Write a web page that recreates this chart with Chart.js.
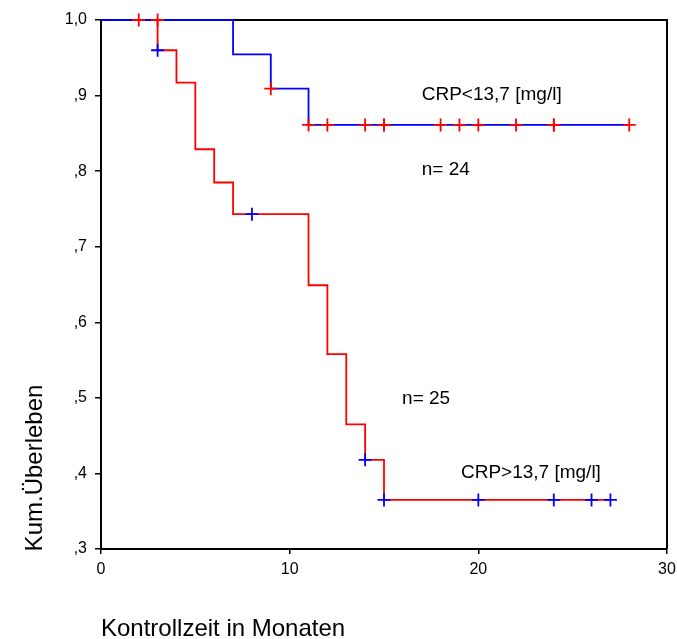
<!DOCTYPE html>
<html>
<head>
<meta charset="utf-8">
<script src="https://cdn.jsdelivr.net/npm/chart.js@4"></script>
<style>
  html, body { margin: 0; padding: 0; background: #fff; }
  canvas { display: block; }
</style>
</head>
<body>
<canvas id="km" width="677" height="639"></canvas>
<script>
// Kaplan-Meier Kurven (Monate / kum. Ueberleben)
var lowTimes = [0, 7, 9, 11, 28];
var lowSurv = [1, 0.9545, 0.9091, 0.8612, 0.8612];
var lowCensored = [2, 3, 9, 11, 12, 14, 15, 15, 18, 19, 20, 22, 24, 24, 28];

var highTimes = [0, 3, 4, 5, 6, 7, 11, 12, 13, 14, 15, 27];
var highSurv = [1, 0.96, 0.917, 0.829, 0.785, 0.743, 0.649, 0.558, 0.465, 0.418, 0.365, 0.365];
var highCensored = [3, 8, 14, 15, 20, 24, 26, 27];

var yTickLabels = [',3', ',4', ',5', ',6', ',7', ',8', ',9', '1,0'];
var xTickLabels = ['0', '10', '20', '30'];

var FONT = "'Liberation Sans', Arial, sans-serif";

function toPoints(times, surv) {
    return times.map(function (t, i) { return { x: t, y: surv[i] }; });
}

// Wert der Treppenfunktion zum Zeitpunkt t
function survAt(times, surv, t) {
    var v = surv[0];
    for (var i = 0; i < times.length; i++) {
        if (times[i] <= t) v = surv[i];
    }
    return v;
}

function censorPoints(cens, times, surv) {
    return cens.map(function (t) { return { x: t, y: survAt(times, surv, t) }; });
}

var textPlugin = {
    id: 'kmText',
    beforeDatasetsDraw: function (chart) {
        // Rahmen oben/rechts (unter den Kurven)
        var ctx = chart.ctx;
        var a = chart.chartArea;
        ctx.save();
        ctx.strokeStyle = '#000';
        ctx.lineWidth = 2;
        ctx.beginPath();
        ctx.moveTo(a.left, a.top);
        ctx.lineTo(a.right, a.top);
        ctx.lineTo(a.right, a.bottom);
        ctx.stroke();
        ctx.restore();
    },
    afterDraw: function (chart) {
        var ctx = chart.ctx;
        var xs = chart.scales.x, ys = chart.scales.y;
        ctx.save();
        ctx.fillStyle = '#000';
        ctx.font = '19px ' + FONT;
        ctx.textAlign = 'left';
        ctx.textBaseline = 'middle';
        ctx.fillText('CRP<13,7 [mg/l]', xs.getPixelForValue(17.0), ys.getPixelForValue(0.901));
        ctx.fillText('n= 24', xs.getPixelForValue(17.0), ys.getPixelForValue(0.802));
        ctx.fillText('n= 25', xs.getPixelForValue(15.96), ys.getPixelForValue(0.499));
        ctx.fillText('CRP>13,7 [mg/l]', xs.getPixelForValue(19.08), ys.getPixelForValue(0.401));

        // Achsentitel
        ctx.font = '24px ' + FONT;
        ctx.textBaseline = 'alphabetic';
        ctx.fillText('Kontrollzeit in Monaten', 101, 636);
        ctx.translate(42, 468);
        ctx.rotate(-Math.PI / 2);
        ctx.textAlign = 'center';
        ctx.fillText('Kum.\u00dcberleben', 0, 0);
        ctx.restore();
    }
};

new Chart(document.getElementById('km'), {
    type: 'line',
    data: {
        datasets: [
            { data: censorPoints(lowCensored, lowTimes, lowSurv), showLine: false, clip: false, pointStyle: 'cross', pointRadius: 6.5, pointBorderWidth: 1.8, borderColor: '#ff0000', backgroundColor: '#ff0000' },
            { data: censorPoints(highCensored, highTimes, highSurv), showLine: false, clip: false, pointStyle: 'cross', pointRadius: 6.5, pointBorderWidth: 1.8, borderColor: '#0000ff', backgroundColor: '#0000ff' },
            { data: toPoints(lowTimes, lowSurv), stepped: true, clip: false, borderColor: '#0000ff', borderWidth: 1.8, pointRadius: 0, fill: false },
            { data: toPoints(highTimes, highSurv), stepped: true, clip: false, borderColor: '#ff0000', borderWidth: 1.8, pointRadius: 0, fill: false }
        ]
    },
    options: {
        responsive: false,
        animation: false,
        layout: { padding: { top: 20, right: 0, left: 0, bottom: 0 } },
        plugins: { legend: { display: false }, tooltip: { enabled: false } },
        scales: {
            x: {
                type: 'linear', min: 0, max: 30,
                afterFit: function (s) { s.height = 90; s.paddingRight = 10; s.paddingLeft = 0; },
                border: { color: '#000', width: 2 },
                grid: { drawOnChartArea: false, drawTicks: true, tickLength: 5, color: '#000', lineWidth: 1.5 },
                ticks: {
                    stepSize: 10, padding: 6, color: '#000', font: { family: FONT, size: 16 },
                    maxRotation: 0,
                    callback: function (v, i) { return xTickLabels[i]; }
                }
            },
            y: {
                min: 0.3, max: 1.0,
                afterFit: function (s) { s.width = 101; },
                border: { color: '#000', width: 2 },
                grid: { drawOnChartArea: false, drawTicks: true, tickLength: 6, color: '#000', lineWidth: 1.5 },
                ticks: {
                    stepSize: 0.1, padding: 8, color: '#000', font: { family: FONT, size: 16 },
                    callback: function (v, i) { return yTickLabels[i]; }
                }
            }
        }
    },
    plugins: [textPlugin]
});
</script>
</body>
</html>
